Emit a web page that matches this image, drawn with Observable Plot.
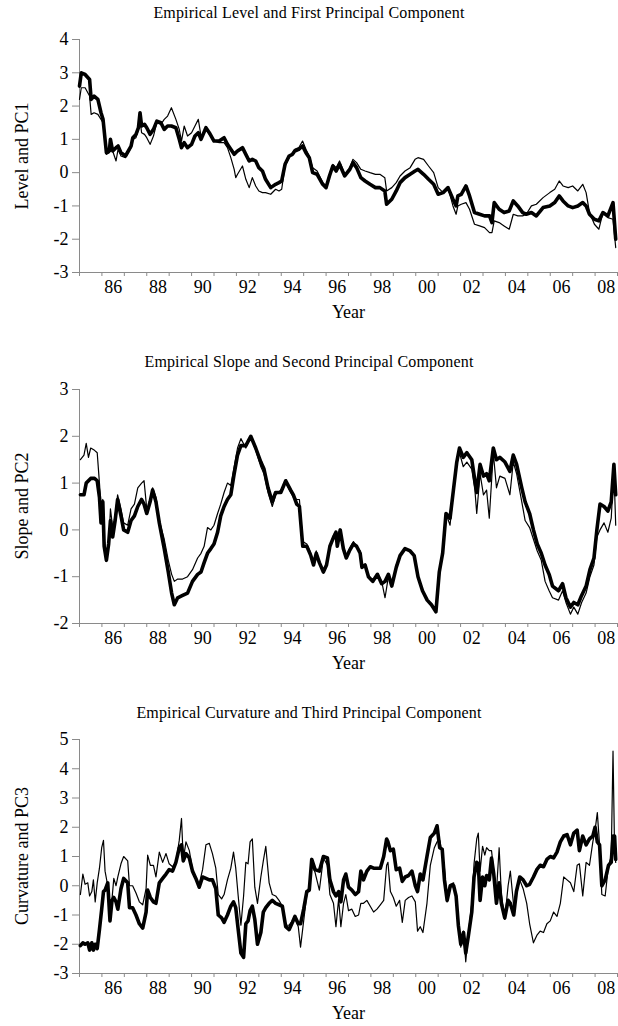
<!DOCTYPE html>
<html><head><meta charset="utf-8">
<script src="https://cdn.jsdelivr.net/npm/d3@7"></script>
<script src="https://cdn.jsdelivr.net/npm/@observablehq/plot@0.6"></script>
<style>
html,body{margin:0;padding:0;background:#fff;}
#root{position:relative;width:618px;height:1026px;overflow:hidden;font-family:"Liberation Serif","Times New Roman",serif;color:#000;}
.title{position:absolute;left:0;width:618px;text-align:center;font-size:16px;line-height:20px;white-space:nowrap;letter-spacing:0.15px;}
.ylab{position:absolute;font-size:18px;line-height:20px;white-space:nowrap;transform:translate(-50%,-50%) rotate(-90deg);}
.panel{position:absolute;left:0;}
</style></head><body>
<div id="root"></div>
<script>
// ---------- Panel 1: Level (thick) and PC1 (thin) ----------
const p1Year = [
 1985.00,1985.08,1985.25,1985.45,1985.52,1985.65,1985.82,1985.96,
 1986.05,1986.20,1986.33,1986.38,1986.48,1986.63,1986.72,1986.85,
 1987.05,1987.30,1987.38,1987.52,1987.63,1987.70,1987.77,1987.90,
 1988.00,1988.15,1988.30,1988.45,1988.63,1988.78,1988.93,
 1989.10,1989.30,1989.45,1989.55,1989.67,1989.82,
 1990.00,1990.15,1990.30,1990.42,1990.64,1990.79,
 1991.00,1991.23,1991.45,1991.60,1991.75,1991.90,1991.97,
 1992.05,1992.27,1992.42,1992.57,1992.71,1992.86,
 1993.00,1993.16,1993.30,1993.53,1993.75,1993.90,
 1994.02,1994.17,1994.35,1994.50,1994.60,1994.78,1994.95,
 1995.10,1995.25,1995.40,1995.60,1995.85,
 1996.00,1996.15,1996.30,1996.45,1996.60,1996.83,
 1997.06,1997.20,1997.36,1997.55,1997.74,1997.96,
 1998.20,1998.40,1998.62,1998.70,1998.93,
 1999.13,1999.30,1999.52,1999.75,1999.97,
 2000.10,2000.35,2000.57,2000.80,
 2001.00,2001.22,2001.44,2001.66,2001.80,2001.88,
 2002.03,2002.24,2002.40,2002.62,2002.85,
 2003.07,2003.29,2003.40,2003.50,2003.72,2003.94,
 2004.17,2004.35,2004.55,2004.77,2004.93,
 2005.16,2005.38,2005.68,2005.98,
 2006.20,2006.40,2006.57,2006.80,
 2007.00,2007.23,2007.45,2007.60,2007.75,2007.97,
 2008.17,2008.35,2008.57,2008.80,2008.92];
const level = [
 2.6,3.0,2.95,2.8,2.2,2.3,2.2,1.8,
 1.6,0.6,0.65,1.0,0.65,0.75,0.8,0.6,
 0.5,0.8,1.05,1.15,1.35,1.8,1.4,1.45,
 1.35,1.15,1.3,1.55,1.5,1.3,1.4,
 1.4,1.35,1.0,0.75,0.9,0.75,
 0.85,1.1,1.2,1.0,1.35,1.2,
 0.95,0.95,1.05,0.85,0.7,0.55,0.6,
 0.65,0.75,0.55,0.35,0.4,0.35,
 0.15,0.05,-0.2,-0.45,-0.35,-0.3,
 -0.25,0.25,0.5,0.55,0.65,0.7,0.8,
 0.6,0.45,0.0,-0.05,-0.35,
 -0.45,-0.1,0.2,0.05,0.25,-0.1,
 0.1,0.3,0.15,-0.15,-0.25,-0.35,
 -0.45,-0.45,-0.55,-0.95,-0.8,
 -0.55,-0.3,-0.15,-0.05,0.05,
 0.1,-0.05,-0.2,-0.35,
 -0.65,-0.6,-0.45,-0.8,-1.0,-0.7,
 -0.65,-0.4,-0.7,-1.2,-1.25,
 -1.3,-1.3,-1.5,-0.9,-1.1,-1.2,
 -1.15,-0.85,-1.0,-1.2,-1.25,
 -1.2,-1.3,-1.05,-1.0,
 -0.9,-0.7,-0.85,-1.0,
 -1.05,-1.0,-0.9,-1.0,-1.25,-1.4,
 -1.45,-1.2,-1.3,-0.9,-2.0];
const pc1 = [
 2.2,2.55,2.55,2.3,1.75,1.8,1.75,1.6,
 1.5,0.55,0.6,0.9,0.65,0.35,0.7,0.5,
 0.45,0.75,1.0,1.05,1.3,1.6,1.2,1.15,
 1.05,0.85,1.1,1.5,1.45,1.6,1.7,
 1.95,1.6,1.3,0.95,1.4,1.1,
 1.2,1.4,1.6,1.1,1.3,1.15,
 0.95,0.9,0.9,0.75,0.45,0.1,-0.15,
 -0.05,0.2,-0.2,-0.45,-0.15,-0.4,
 -0.55,-0.6,-0.6,-0.65,-0.5,-0.55,
 -0.5,0.2,0.45,0.55,0.7,0.75,0.95,
 0.7,0.5,0.15,0.05,-0.3,
 -0.4,-0.05,0.25,0.15,0.35,-0.05,
 0.15,0.4,0.3,0.1,0.05,0.0,
 -0.05,-0.05,-0.15,-0.55,-0.45,
 -0.3,-0.1,0.05,0.15,0.4,
 0.45,0.4,0.2,0.0,
 -0.45,-0.6,-0.45,-1.0,-1.25,-1.0,
 -0.95,-0.9,-1.1,-1.55,-1.6,
 -1.65,-1.8,-1.8,-1.45,-1.5,-1.6,
 -1.7,-1.25,-1.3,-1.3,-1.25,
 -1.0,-0.95,-0.75,-0.6,
 -0.5,-0.25,-0.4,-0.45,
 -0.4,-0.55,-0.35,-0.6,-1.2,-1.55,
 -1.7,-1.2,-1.35,-1.4,-2.25];

// ---------- Panel 2: Slope (thick) and PC2 (thin) ----------
const p2Year = [
 1985.04,1985.20,1985.30,1985.40,1985.50,1985.67,1985.79,1985.89,1985.96,
 1986.04,1986.10,1986.20,1986.30,1986.38,1986.48,1986.59,1986.70,1986.85,1986.97,
 1987.15,1987.30,1987.45,1987.60,1987.77,1987.88,
 1988.00,1988.15,1988.26,1988.41,1988.56,1988.78,1988.96,
 1989.11,1989.23,1989.38,1989.60,1989.82,
 1990.04,1990.27,1990.42,1990.56,1990.71,1990.86,
 1991.00,1991.16,1991.30,1991.45,1991.60,1991.75,1991.90,
 1992.05,1992.20,1992.42,1992.64,1992.86,
 1993.09,1993.23,1993.41,1993.60,1993.75,1993.98,
 1994.20,1994.42,1994.54,1994.69,1994.81,1994.96,
 1995.14,1995.32,1995.44,1995.56,1995.70,1995.88,
 1996.02,1996.17,1996.34,1996.44,1996.50,1996.63,1996.77,1996.90,
 1997.04,1997.22,1997.36,1997.52,1997.60,1997.74,1997.89,
 1998.08,1998.29,1998.48,1998.63,1998.78,1998.93,
 1999.13,1999.30,1999.52,1999.75,1999.93,
 2000.10,2000.30,2000.51,2000.70,2000.90,
 2001.05,2001.20,2001.35,2001.53,2001.68,2001.83,2001.95,
 2002.12,2002.28,2002.50,2002.64,2002.72,2002.87,
 2003.02,2003.16,2003.28,2003.46,2003.60,2003.75,2003.98,
 2004.20,2004.35,2004.50,2004.73,2004.88,
 2005.08,2005.25,2005.42,2005.60,2005.77,2005.95,
 2006.10,2006.37,2006.55,2006.70,2006.90,
 2007.05,2007.23,2007.40,2007.60,2007.77,2007.95,
 2008.08,2008.22,2008.40,2008.57,2008.72,2008.84,2008.92];
const slope = [
 0.75,0.75,1.0,1.05,1.1,1.1,1.05,0.7,0.15,
 0.6,-0.35,-0.65,-0.3,0.2,-0.15,0.2,0.65,0.3,0.0,
 -0.05,0.2,0.3,0.5,0.65,0.55,
 0.35,0.6,0.85,0.6,0.15,-0.4,-0.9,
 -1.35,-1.6,-1.45,-1.4,-1.35,
 -1.1,-0.95,-0.9,-0.7,-0.5,-0.4,
 -0.3,-0.05,0.3,0.5,0.65,0.75,1.2,
 1.6,1.8,1.8,2.0,1.75,
 1.45,1.3,0.9,0.6,0.8,0.8,
 1.05,0.85,0.75,0.55,0.5,-0.35,
 -0.35,-0.55,-0.75,-0.5,-0.7,-0.9,
 -0.75,-0.35,-0.15,-0.05,-0.35,0.0,-0.4,-0.6,
 -0.45,-0.3,-0.35,-0.5,-0.8,-0.75,-1.0,
 -1.1,-0.95,-1.15,-1.1,-0.95,-1.2,
 -0.8,-0.55,-0.4,-0.45,-0.55,
 -1.0,-1.3,-1.5,-1.6,-1.75,
 -0.9,-0.5,0.35,0.25,0.85,1.45,1.75,
 1.55,1.65,1.5,1.05,0.8,1.4,
 1.15,1.2,1.05,1.75,1.5,1.55,1.45,
 1.25,1.6,1.4,0.9,0.6,
 0.35,0.0,-0.3,-0.5,-0.75,-0.95,
 -1.2,-1.3,-1.15,-1.45,-1.65,
 -1.55,-1.6,-1.4,-1.2,-0.85,-0.6,
 0.0,0.55,0.5,0.4,0.6,1.4,0.75];
const pc2 = [
 1.5,1.6,1.85,1.55,1.75,1.7,1.65,1.0,0.5,
 0.65,-0.2,-0.55,-0.35,0.45,0.05,0.3,0.75,0.45,0.15,
 0.1,0.45,0.55,0.9,1.0,1.05,
 0.45,0.55,0.9,0.7,0.2,-0.2,-0.65,
 -0.95,-1.1,-1.05,-1.05,-1.0,
 -0.85,-0.6,-0.5,-0.35,0.05,0.0,
 0.1,0.35,0.55,0.8,1.0,0.95,1.35,
 1.75,1.95,1.75,2.0,1.7,
 1.35,1.2,0.8,0.5,0.75,0.85,
 1.0,0.8,0.7,0.65,0.65,-0.25,
 -0.3,-0.5,-0.75,-0.45,-0.7,-0.9,
 -0.7,-0.35,-0.1,-0.05,-0.3,0.0,-0.35,-0.55,
 -0.4,-0.25,-0.35,-0.45,-0.75,-0.75,-1.0,
 -1.1,-0.95,-1.1,-1.45,-1.0,-1.2,
 -0.75,-0.55,-0.4,-0.45,-0.55,
 -1.0,-1.3,-1.5,-1.6,-1.75,
 -0.9,-0.5,0.35,0.1,0.8,1.4,1.65,
 1.35,1.45,1.3,0.85,0.35,1.2,
 0.75,0.85,0.25,1.65,0.9,1.15,1.1,
 0.75,1.45,1.2,0.6,0.2,
 0.05,-0.2,-0.45,-0.65,-1.1,-1.3,
 -1.45,-1.5,-1.3,-1.55,-1.8,
 -1.65,-1.8,-1.55,-1.35,-1.0,-0.75,
 -0.15,0.0,0.15,-0.05,0.25,1.3,0.1];

// ---------- Panel 3: Curvature (thick) and PC3 (thin) ----------
const p3Year = [
 1985.04,1985.15,1985.25,1985.37,1985.45,1985.55,1985.62,1985.70,1985.79,1985.89,1985.99,
 1986.07,1986.14,1986.26,1986.36,1986.45,1986.53,1986.63,1986.71,1986.85,1986.97,
 1987.15,1987.23,1987.37,1987.52,1987.67,1987.82,1987.97,
 1988.04,1988.16,1988.30,1988.41,1988.56,1988.71,1988.86,
 1989.00,1989.15,1989.30,1989.45,1989.55,1989.63,1989.75,1989.90,
 1990.04,1990.19,1990.34,1990.49,1990.64,1990.79,1990.93,
 1991.08,1991.19,1991.34,1991.45,1991.60,1991.75,1991.87,1991.97,
 1992.08,1992.20,1992.32,1992.42,1992.52,1992.61,1992.71,1992.82,1992.94,
 1993.09,1993.20,1993.31,1993.46,1993.60,1993.75,1993.90,
 1994.05,1994.20,1994.35,1994.50,1994.61,1994.76,1994.86,
 1995.00,1995.14,1995.25,1995.36,1995.51,1995.70,1995.88,
 1996.06,1996.17,1996.33,1996.44,1996.56,1996.66,1996.78,1996.88,
 1997.00,1997.15,1997.30,1997.45,1997.55,1997.67,1997.82,1997.97,
 1998.12,1998.27,1998.42,1998.57,1998.70,1998.76,1998.87,
 1999.00,1999.13,1999.28,1999.40,1999.53,1999.68,1999.83,1999.98,
 2000.08,2000.20,2000.32,2000.50,2000.65,2000.83,2000.95,
 2001.07,2001.18,2001.28,2001.40,2001.54,2001.69,2001.80,2001.90,
 2002.01,2002.13,2002.23,2002.35,2002.50,2002.60,2002.72,2002.79,2002.87,2002.98,
 2003.08,2003.16,2003.28,2003.38,2003.48,2003.60,2003.72,2003.82,2003.97,
 2004.12,2004.22,2004.37,2004.49,2004.64,2004.79,2004.95,
 2005.08,2005.25,2005.40,2005.55,2005.70,2005.85,
 2006.00,2006.15,2006.30,2006.45,2006.60,2006.75,2006.90,
 2007.05,2007.20,2007.30,2007.45,2007.60,2007.75,2007.90,
 2008.00,2008.10,2008.20,2008.30,2008.45,2008.60,2008.72,2008.80,2008.87,2008.92];
const curvature = [
 -2.05,-1.95,-2.0,-1.95,-2.2,-1.95,-2.2,-2.0,-2.15,-1.5,-0.8,
 -0.2,-0.15,0.1,-1.2,-0.5,-0.4,-0.55,-0.8,-0.1,0.25,
 0.1,-0.75,-0.75,-1.0,-1.3,-1.45,-0.9,
 -0.15,-0.4,-0.55,-0.6,0.1,0.25,0.4,
 0.55,0.5,0.8,1.3,1.4,0.85,1.1,0.95,
 0.5,0.25,-0.05,0.3,0.25,0.2,0.2,
 -0.1,-1.0,-1.1,-1.25,-1.0,-0.7,-0.55,-0.75,
 -1.5,-2.3,-2.45,-1.3,-1.2,-0.85,-0.7,-1.15,-2.0,
 -1.6,-0.9,-0.75,-0.6,-0.5,-0.6,-0.65,
 -0.7,-1.4,-1.5,-1.25,-1.05,-1.3,-1.3,
 -0.8,-0.2,-0.15,0.9,0.55,0.5,1.0,
 0.95,0.2,-0.2,-0.35,-0.2,-0.55,0.2,0.4,
 -0.05,-0.15,-0.3,-0.2,0.5,0.2,0.5,0.65,
 0.6,0.6,0.6,1.0,1.6,1.5,1.2,
 1.25,0.55,0.6,0.15,0.3,0.35,0.5,0.0,
 -0.2,0.4,0.2,1.0,1.65,1.8,2.05,
 1.3,1.25,0.2,-0.5,0.0,0.0,-0.35,-1.35,
 -2.0,-1.6,-2.3,-1.7,-0.9,0.3,0.8,0.75,-0.5,0.3,
 0.0,0.35,0.2,0.95,0.4,-0.6,0.1,-0.6,-1.1,
 -0.5,-0.6,-1.0,-0.2,0.3,0.2,0.0,
 0.05,0.3,0.55,0.7,0.65,0.9,
 1.0,0.95,1.15,1.5,1.7,1.75,1.4,
 1.8,1.9,1.2,1.7,1.4,1.6,1.7,
 2.0,1.5,1.4,0.0,0.2,0.7,0.8,1.7,1.7,0.9];
const pc3 = [
 -0.3,0.4,0.05,0.1,-0.35,-0.2,0.2,-0.55,0.1,0.6,1.3,
 1.55,0.5,0.0,-0.95,-0.45,0.25,0.0,0.3,0.75,1.0,
 0.85,0.0,0.0,-0.25,-0.55,-0.65,-0.1,
 1.05,0.7,0.7,0.3,1.15,0.8,1.1,
 0.75,0.65,0.8,1.55,2.3,0.9,1.5,1.2,
 0.55,0.2,0.05,0.55,1.4,1.45,1.1,
 0.6,-0.3,-0.45,-0.3,0.2,0.6,1.15,0.6,
 -0.35,-1.35,-0.35,0.8,0.75,1.5,1.6,-0.05,-0.6,
 0.3,0.85,1.35,0.1,-0.3,-0.35,-0.5,
 -0.7,-1.35,-1.35,-1.2,-1.1,-1.4,-2.1,
 -1.2,-0.3,0.0,0.75,0.45,-0.15,0.95,
 0.7,-0.3,-0.6,-1.4,-0.45,-1.4,-0.6,-0.3,
 -0.85,-0.8,-1.05,-1.0,-0.6,-0.6,-0.5,-0.7,
 -0.9,-0.8,-0.65,-0.5,0.7,0.8,-0.2,
 -0.4,-0.7,-0.5,-1.25,-0.5,-0.4,-0.35,-0.55,
 -1.55,-1.4,-1.6,-0.6,0.7,1.3,1.5,
 1.55,1.1,0.6,-0.55,0.05,0.1,-0.4,-1.2,
 -2.1,-1.55,-2.6,-1.6,-0.6,0.75,1.6,1.8,0.5,1.35,
 1.05,1.3,1.2,1.2,0.5,-0.2,1.3,-0.3,-1.15,
 0.0,0.5,-0.7,-0.25,0.2,-0.1,-0.6,
 -1.3,-1.95,-1.7,-1.55,-1.6,-1.3,
 -1.2,-0.9,-1.05,-0.6,0.3,0.2,0.1,
 -0.2,0.7,0.75,-0.35,0.8,0.7,1.5,
 1.9,2.5,1.4,-0.3,-0.35,0.7,1.0,4.6,1.2,0.8];

// ---------- shared axis values ----------
const yearTicks = d3.range(1985, 2010);              // tick marks at each year boundary
const yearLabels = ["86","88","90","92","94","96","98","00","02","04","06","08"];
const yearLabelPos = [1986,1988,1990,1992,1994,1996,1998,2000,2002,2004,2006,2008];

const panels = [
  {title:"Empirical Level and First Principal Component", ylabel:"Level and PC1",
   years:p1Year, thick:level, thin:pc1, ydomain:[-3,4], titleY:13, top:39, bottom:272},
  {title:"Empirical Slope and Second Principal Component", ylabel:"Slope and PC2",
   years:p2Year, thick:slope, thin:pc2, ydomain:[-2,3], titleY:362, top:389, bottom:623},
  {title:"Empirical Curvature and Third Principal Component", ylabel:"Curvature and PC3",
   years:p3Year, thick:curvature, thin:pc3, ydomain:[-3,5], titleY:713, top:739, bottom:973}
];

const root = document.getElementById("root");
const axisColor = "#8a8a8a";

for (const p of panels) {
  if (p.years.length !== p.thick.length || p.years.length !== p.thin.length) {
    console.error("length mismatch", p.title, p.years.length, p.thick.length, p.thin.length);
  }
  const t = document.createElement("div");
  t.className = "title";
  t.style.top = (p.titleY - 10) + "px";
  t.textContent = p.title;
  root.appendChild(t);

  const thickData = p.years.map((y, i) => ({x: y, v: p.thick[i]}));
  const thinData = p.years.map((y, i) => ({x: y, v: p.thin[i]}));
  const mt = 12, plotH = p.bottom - p.top, mb = 62;
  const H = plotH + mt + mb;
  const yt = d3.range(p.ydomain[0], p.ydomain[1] + 1);

  const chart = Plot.plot({
    width: 618, height: H,
    marginLeft: 79, marginRight: 1, marginTop: mt, marginBottom: mb,
    style: {fontFamily: "'Liberation Serif','Times New Roman',serif", fontSize: "18px", color: "#000", background: "#fff", overflow: "visible"},
    x: {domain: [1985, 2009], axis: null},
    y: {domain: p.ydomain, axis: null},
    marks: [
      Plot.ruleX([1985], {stroke: axisColor, strokeWidth: 1}),
      Plot.ruleY([p.ydomain[0]], {stroke: axisColor, strokeWidth: 1}),
      Plot.axisY({ticks: yt, tickSize: 7, tickPadding: 4, stroke: axisColor, tickFormat: d => String(d), label: null, fill: "#000", fontSize: 18}),
      Plot.axisX({ticks: yearTicks, tickSize: 4, tickFormat: () => "", stroke: axisColor, label: null}),
      Plot.text(yearLabelPos, {x: d => d + 0.5, y: p.ydomain[0], text: (d, i) => yearLabels[i], dy: 15, fontSize: 18, fill: "#000"}),
      Plot.line(thinData, {x: "x", y: "v", stroke: "#000", strokeWidth: 1.2, strokeLinejoin: "round"}),
      Plot.line(thickData, {x: "x", y: "v", stroke: "#000", strokeWidth: 3.6, strokeLinejoin: "round"}),
      Plot.text(["Year"], {frameAnchor: "bottom", dy: 45, fontSize: 18, fill: "#000"})
    ]
  });
  const wrap = document.createElement("div");
  wrap.className = "panel";
  wrap.style.top = (p.top - mt) + "px";
  wrap.appendChild(chart);
  root.appendChild(wrap);

  const yl = document.createElement("div");
  yl.className = "ylab";
  yl.style.left = "22px";
  yl.style.top = ((p.top + p.bottom) / 2) + "px";
  yl.textContent = p.ylabel;
  root.appendChild(yl);
}
</script>
</body></html>
